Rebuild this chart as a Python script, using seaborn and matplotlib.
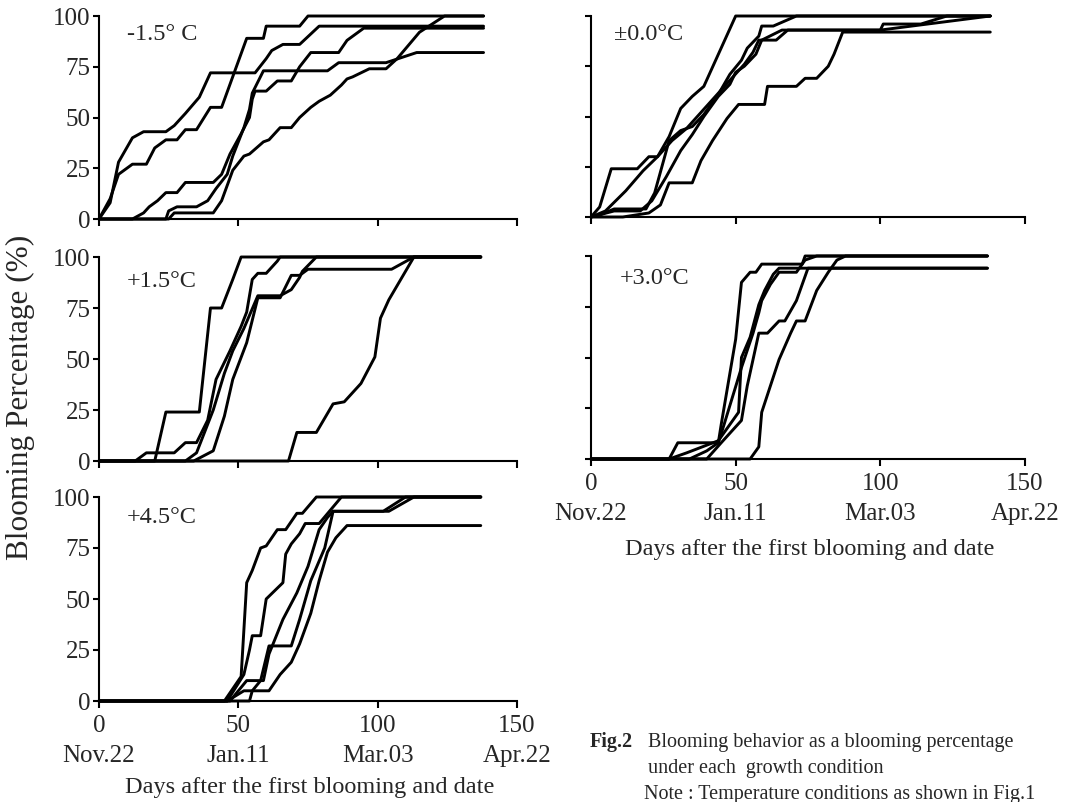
import pandas as pd
import matplotlib.pyplot as plt
import seaborn as sns

sns.set_style("ticks")
plt.rcParams['font.family'] = ['Liberation Serif', 'DejaVu Serif']

conditions = ["-1.5° C", "±0.0°C", "+1.5°C", "+3.0°C", "+4.5°C"]
day_ticks = [0, 50, 100, 150]
date_labels = ["Nov.22", "Jan.11", "Mar.03", "Apr.22"]
pct_ticks = [0, 25, 50, 75, 100]

# -1.5 C
m15_days = [
    [0, 4, 7, 12, 16, 24, 27, 31, 36, 40, 56, 60, 62, 66, 72, 79, 138],
    [0, 4, 7, 12, 17, 20, 24, 28, 31, 35, 40, 44, 53, 59, 60, 72, 75, 138],
    [0, 12, 16, 18, 21, 24, 28, 31, 41, 44, 47, 51, 54, 55, 56, 60, 64, 69, 72, 76, 86, 89, 95, 138],
    [0, 24, 25, 28, 35, 39, 42, 46, 48, 52, 54, 55, 59, 82, 86, 103, 114, 138],
    [0, 25, 27, 41, 44, 48, 52, 54, 59, 61, 65, 69, 72, 76, 79, 83, 87, 89, 91, 97, 103, 107, 115, 124, 138],
]
m15_pct = [
    [0, 8, 28, 40, 43, 43, 46, 52, 60, 72, 72, 79, 83, 86, 86, 95, 95],
    [0, 10, 22, 27, 27, 35, 39, 39, 44, 44, 55, 55, 89, 89, 95, 95, 100, 100],
    [0, 0, 3, 6, 9, 13, 13, 18, 18, 22, 32, 42, 50, 59, 63, 63, 68, 68, 75, 82, 82, 88, 94, 94],
    [0, 0, 4, 6, 6, 9, 15, 22, 31, 45, 54, 62, 73, 73, 77, 77, 82, 82],
    [0, 0, 3, 3, 9, 24, 31, 32, 38, 39, 45, 45, 50, 55, 58, 61, 66, 69, 70, 74, 74, 79, 92, 100, 100],
]

# +-0.0 C
p00_days = [
    [0, 3, 7, 16, 20, 23, 27, 31, 35, 39, 50, 138],
    [0, 3, 8, 19, 22, 27, 31, 35, 39, 44, 48, 52, 54, 58, 59, 63, 71, 138],
    [0, 5, 12, 18, 23, 28, 33, 38, 43, 48, 53, 56, 58, 64, 68, 100, 101, 114, 123, 138],
    [0, 8, 17, 21, 26, 31, 35, 39, 44, 48, 50, 53, 57, 59, 66, 100, 138],
    [0, 11, 20, 24, 27, 35, 38, 42, 47, 51, 60, 61, 71, 74, 78, 82, 84, 87, 138],
]
p00_pct = [
    [0, 5, 24, 24, 30, 30, 40, 54, 60, 65, 100, 100],
    [0, 1, 4, 4, 12, 38, 43, 45, 51, 61, 71, 78, 84, 90, 95, 95, 100, 100],
    [0, 3, 13, 23, 30, 38, 44, 52, 60, 68, 76, 82, 88, 88, 93, 93, 96, 96, 100, 100],
    [0, 3, 3, 8, 20, 33, 41, 50, 60, 66, 72, 75, 81, 88, 93, 93, 100],
    [0, 0, 2, 6, 17, 17, 28, 38, 49, 56, 56, 65, 65, 69, 69, 75, 81, 92, 92],
]

# +1.5 C
p15_days = [
    [0, 20, 24, 36, 40, 44, 48, 51, 137],
    [0, 13, 17, 27, 31, 35, 39, 42, 47, 51, 53, 55, 57, 60, 64, 65, 137],
    [0, 31, 35, 41, 45, 48, 52, 57, 65, 69, 72, 73, 78, 137],
    [0, 34, 41, 45, 48, 53, 57, 65, 69, 72, 75, 105, 113, 137],
    [0, 68, 71, 78, 84, 88, 94, 99, 101, 104, 113, 137],
]
p15_pct = [
    [0, 0, 24, 24, 75, 75, 89, 100, 100],
    [0, 0, 4, 4, 9, 9, 20, 40, 54, 66, 73, 89, 92, 92, 98, 100, 100],
    [0, 0, 4, 25, 43, 54, 65, 81, 81, 84, 90, 93, 100, 100],
    [0, 0, 5, 22, 40, 58, 80, 80, 91, 91, 94, 94, 100, 100],
    [0, 0, 14, 14, 28, 29, 38, 51, 70, 79, 100, 100],
]

# +3.0 C
p30_days = [
    [0, 27, 30, 44, 45, 50, 52, 55, 57, 59, 73, 74, 137],
    [0, 27, 33, 44, 51, 52, 55, 58, 60, 63, 65, 137],
    [0, 34, 40, 44, 46, 52, 56, 58, 59, 62, 65, 71, 74, 78, 137],
    [0, 40, 45, 52, 54, 58, 61, 65, 67, 71, 74, 75, 137],
    [0, 55, 58, 59, 65, 69, 71, 74, 78, 82, 85, 88, 137],
]
p30_pct = [
    [0, 0, 8, 8, 17, 59, 87, 92, 92, 96, 96, 100, 100],
    [0, 0, 3, 9, 23, 50, 60, 76, 83, 91, 94, 94],
    [0, 0, 4, 8, 17, 45, 62, 72, 78, 86, 92, 92, 98, 100, 100],
    [0, 0, 8, 19, 36, 62, 62, 68, 68, 78, 90, 94, 94],
    [0, 0, 6, 23, 49, 62, 68, 68, 83, 92, 98, 100, 100],
]

# +4.5 C
p45_days = [
    [0, 45, 51, 53, 55, 58, 60, 64, 67, 71, 73, 78, 137],
    [0, 46, 52, 54, 55, 58, 60, 63, 66, 67, 69, 72, 74, 79, 87, 137],
    [0, 46, 52, 55, 58, 61, 69, 72, 76, 81, 84, 102, 110, 137],
    [0, 54, 55, 61, 65, 69, 72, 76, 79, 82, 85, 89, 137],
    [0, 47, 53, 59, 61, 66, 71, 75, 79, 82, 84, 104, 113, 137],
]
p45_pct = [
    [0, 0, 12, 58, 64, 75, 76, 84, 84, 92, 92, 100, 100],
    [0, 0, 13, 25, 32, 32, 50, 54, 58, 72, 77, 82, 87, 87, 100, 100],
    [0, 0, 5, 5, 10, 27, 27, 40, 59, 75, 93, 93, 100, 100],
    [0, 0, 5, 5, 13, 19, 28, 43, 59, 73, 80, 86, 86],
    [0, 0, 10, 10, 23, 40, 53, 66, 84, 90, 93, 93, 100, 100],
]

all_days = [m15_days, p00_days, p15_days, p30_days, p45_days]
all_pct = [m15_pct, p00_pct, p15_pct, p30_pct, p45_pct]

rows = []
for cond, dl, pl in zip(conditions, all_days, all_pct):
    for i, (d, p) in enumerate(zip(dl, pl)):
        for x, y in zip(d, p):
            rows.append({'cond': cond, 'line': i, 'day': x, 'pct': y})
df = pd.DataFrame(rows)

W, H = 1071, 802
# pixel boxes (left, top, right, bottom), label pos, show x labels, show y labels
layout = [
    ((99, 16, 517, 219), (10, 91), False, True),
    ((591, 16, 1025, 217), (8, 91), False, False),
    ((99, 257, 517, 461), (10, 88), False, True),
    ((591, 256, 1025, 459), (10, 89), True, False),
    ((99, 497, 517, 701), (10, 90), True, True),
]

fig = plt.figure(figsize=(W / 100, H / 100), dpi=100)
for cond, (box, lab, showx, showy) in zip(conditions, layout):
    l, t, r, b = box
    ax = fig.add_axes([l / W, 1 - b / H, (r - l) / W, (b - t) / H])
    sub = df[df['cond'] == cond]
    sns.lineplot(data=sub, x='day', y='pct', units='line', estimator=None,
                 sort=False, color='black', linewidth=2.1, ax=ax, legend=False)
    for ln in ax.lines:
        ln.set_clip_on(False)
        ln.set_solid_joinstyle('round')
    ax.set_xlim(0, 150)
    ax.set_ylim(0, 100)
    ax.set_xlabel('')
    ax.set_ylabel('')
    for s in ['top', 'right']:
        ax.spines[s].set_visible(False)
    for s in ['left', 'bottom']:
        ax.spines[s].set_linewidth(1.5)
        ax.spines[s].set_color('black')
    ax.set_xticks(day_ticks)
    ax.set_yticks(pct_ticks)
    if showx:
        ax.set_xticklabels([f"{d}\n{t}" for d, t in zip(day_ticks, date_labels)],
                           linespacing=1.45)
    else:
        ax.set_xticklabels([])
    if showy:
        ax.set_yticklabels([str(p) for p in pct_ticks])
    else:
        ax.set_yticklabels([])
    ax.tick_params(axis='x', direction='out', length=5, width=1.5, pad=5,
                   labelsize=18, color='black')
    ax.tick_params(axis='y', direction='out', length=4.5, width=1.5, pad=1.5,
                   labelsize=18, color='black')
    ax.text(lab[0], lab[1], cond, fontsize=17.5, va='center', ha='left')

fig.text(20 / W, 1 - 397 / H, "Blooming Percentage (%)", rotation=90,
         fontsize=22.5, ha='center', va='center')
fig.text(310 / W, 1 - 787 / H, "Days after the first blooming and date",
         fontsize=17.5, ha='center', va='center')
fig.text(810 / W, 1 - 549 / H, "Days after the first blooming and date",
         fontsize=17.5, ha='center', va='center')

fig.text(590 / W, 1 - 742 / H, "Fig.2", fontsize=14.5, fontweight='bold',
         ha='left', va='center')
fig.text(648 / W, 1 - 742 / H, "Blooming behavior as a blooming percentage",
         fontsize=14.5, ha='left', va='center')
fig.text(648 / W, 1 - 768 / H, "under each  growth condition",
         fontsize=14.5, ha='left', va='center')
fig.text(644 / W, 1 - 794 / H, "Note : Temperature conditions as shown in Fig.1",
         fontsize=14.5, ha='left', va='center')

fig.savefig("out.png", dpi=100)
plt.close(fig)
